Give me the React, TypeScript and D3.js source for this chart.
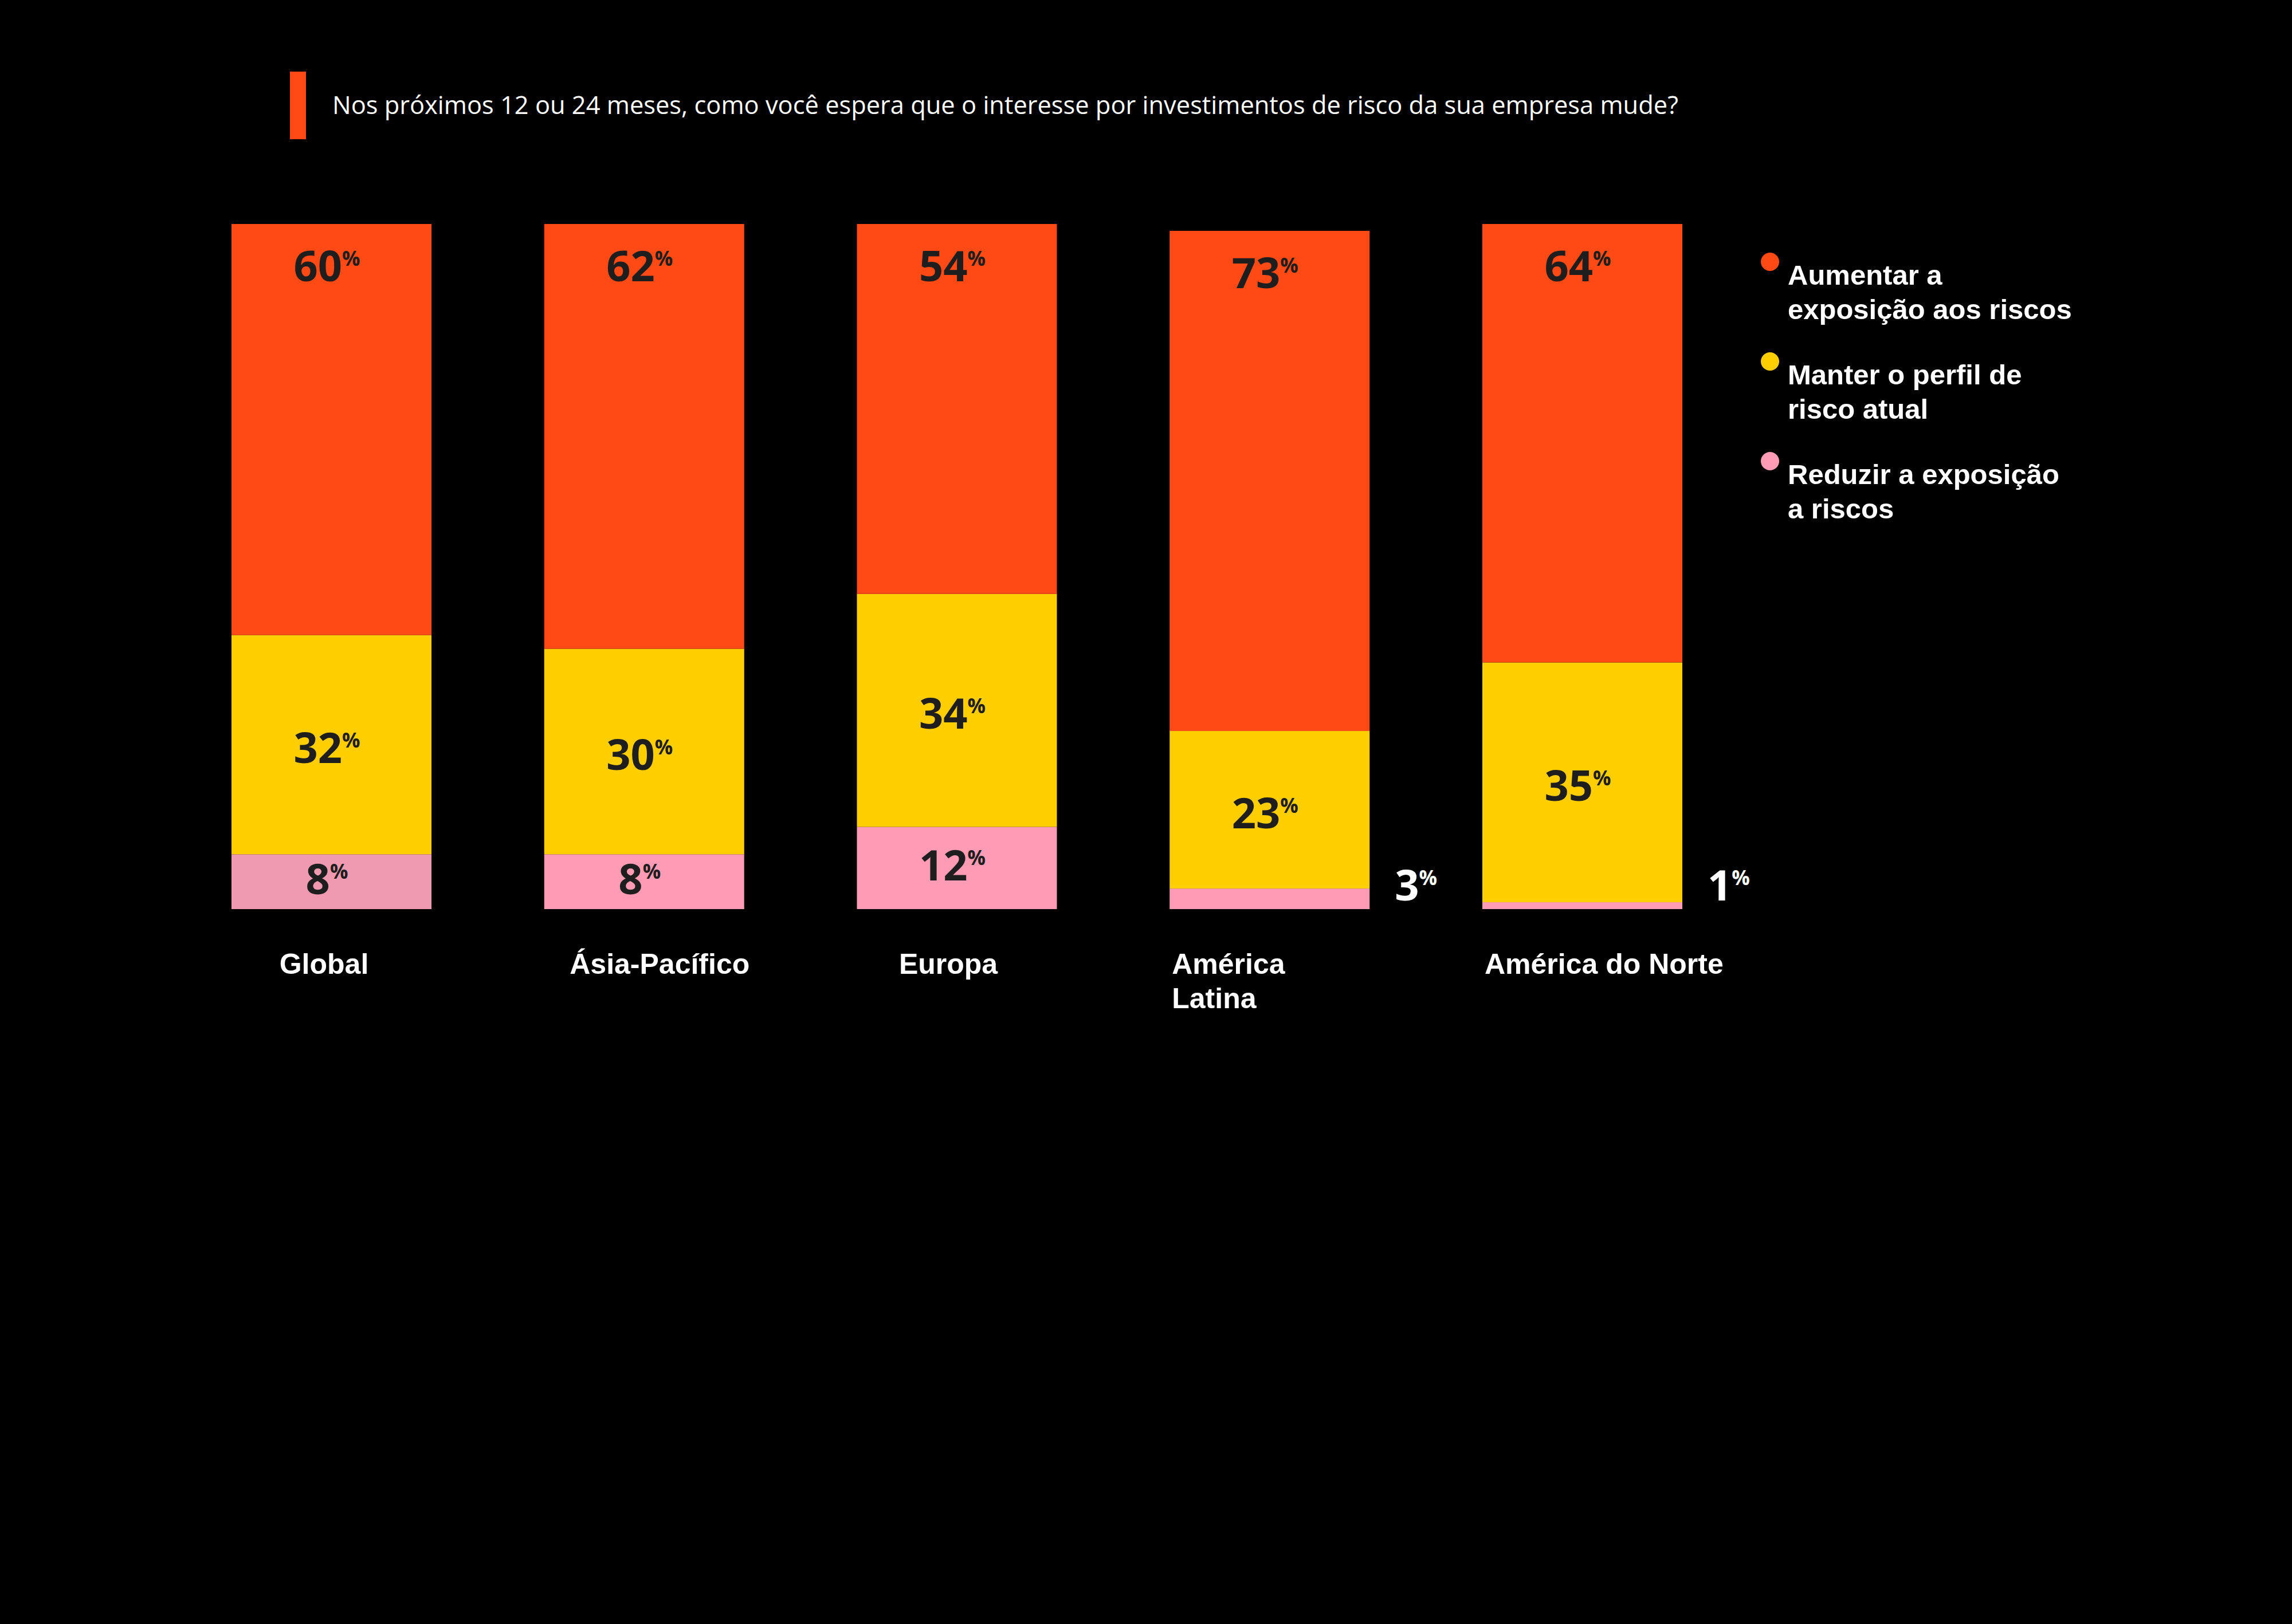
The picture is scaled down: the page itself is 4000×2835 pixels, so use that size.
import React, { useEffect, useRef } from 'react';
import * as d3 from 'd3';

// values (percent)
const regions = ['Global', 'Ásia-Pacífico', 'Europa', 'América Latina', 'América do Norte'];
const aumentar = [60, 62, 54, 73, 64];
const manter = [32, 30, 34, 23, 35];
const reduzir = [8, 8, 12, 3, 1];

const seriesKeys = ['aumentar', 'manter', 'reduzir'];
const legendLines = [
  ['Aumentar a', 'exposição aos riscos'],
  ['Manter o perfil de', 'risco atual'],
  ['Reduzir a exposição', 'a riscos'],
];
const regionLines: Record<string, string[]> = {
  'América Latina': ['América', 'Latina'],
};
const title =
  'Nos próximos 12 ou 24 meses, como você espera que o interesse por investimentos de risco da sua empresa mude?';

const W = 4000;
const H = 2835;
const ORANGE = '#FF4A15';
const YELLOW = '#FFCE00';
const PINK = '#FF9BB4';
const INK = '#1E1E1E';

export default function App() {
  const svgRef = useRef<SVGSVGElement>(null);

  useEffect(() => {
    if (!svgRef.current) return;
    const svg = d3.select(svgRef.current);
    svg.selectAll('*').remove();

    svg.append('rect').attr('width', W).attr('height', H).attr('fill', '#000');

    // title with orange marker
    svg.append('rect')
      .attr('x', 506).attr('y', 125).attr('width', 28).attr('height', 118)
      .attr('fill', ORANGE);
    svg.append('text')
      .attr('x', 580).attr('y', 199)
      .attr('fill', '#fff')
      .style('font-family', '"Open Sans", sans-serif')
      .style('font-size', '43.4px')
      .text(title);

    const rows = regions.map((r, i) => ({
      region: r,
      aumentar: aumentar[i],
      manter: manter[i],
      reduzir: reduzir[i],
    }));

    const x = d3.scaleBand<string>()
      .domain(regions)
      .range([404, 2936])
      .paddingInner(0.3605)
      .paddingOuter(0);

    const y = d3.scaleLinear().domain([0, 100]).range([1587, 391]);

    const color = d3.scaleOrdinal<string, string>()
      .domain(seriesKeys)
      .range([ORANGE, YELLOW, PINK]);

    const stack = d3.stack<any>().keys(seriesKeys.slice().reverse());
    const layers = stack(rows);

    const g = svg.append('g');

    layers.forEach(layer => {
      const key = layer.key;
      g.append('g')
        .selectAll('rect')
        .data(layer)
        .join('rect')
        .attr('x', d => x(d.data.region)!)
        .attr('width', x.bandwidth())
        .attr('y', d => y(d[1]))
        .attr('height', d => y(d[0]) - y(d[1]))
        .attr('fill', d => (key === 'reduzir' && d.data.region === 'Global' ? '#F09AB1' : color(key)));
    });

    // value labels: big number with a small raised percent sign
    const addValue = (
      sel: d3.Selection<SVGGElement, unknown, null, undefined>,
      xPos: number,
      yPos: number,
      value: number,
      fill: string,
      anchor: string
    ) => {
      const t = sel.append('text')
        .attr('x', xPos).attr('y', yPos)
        .attr('fill', fill)
        .attr('text-anchor', anchor)
        .style('font-family', '"Open Sans", sans-serif')
        .style('font-weight', 700)
        .style('font-size', '74px');
      t.append('tspan').text(String(value));
      t.append('tspan')
        .attr('dx', 0).attr('dy', -27)
        .style('font-size', '35px')
        .text('%');
    };

    const labels = svg.append('g');
    layers.forEach(layer => {
      const key = layer.key;
      layer.forEach(d => {
        const v = d[1] - d[0];
        const cx = x(d.data.region)! + x.bandwidth() / 2 - 8;
        if (key === 'aumentar') {
          addValue(labels, cx, y(d[1]) + 100, v, INK, 'middle');
        } else if (v < 5) {
          addValue(labels, x(d.data.region)! + x.bandwidth() + 44, y(0) - 15, v, '#fff', 'start');
        } else {
          const mid = (y(d[0]) + y(d[1])) / 2;
          addValue(labels, cx, mid + (key === 'manter' ? 32 : 22), v, INK, 'middle');
        }
      });
    });

    // category labels
    const nudge: Record<string, number> = { 'Global': -13, 'Ásia-Pacífico': 27, 'Europa': -15 };
    const cat = svg.append('g')
      .style('font-family', '"Liberation Sans", Arial, sans-serif')
      .style('font-weight', 700)
      .style('font-size', '50px')
      .attr('fill', '#fff');
    regions.forEach(r => {
      const lines = regionLines[r] || [r];
      const centered = r in nudge;
      const t = cat.append('text')
        .attr('text-anchor', centered ? 'middle' : 'start');
      lines.forEach((ln, j) => {
        t.append('tspan')
          .attr('x', centered ? x(r)! + x.bandwidth() / 2 + nudge[r] : x(r)! + 4)
          .attr('y', 1700 + j * 60)
          .text(ln);
      });
    });

    // legend
    const leg = svg.append('g');
    seriesKeys.forEach((k, i) => {
      const base = 497 + i * 174;
      leg.append('circle')
        .attr('cx', 3089).attr('cy', base - 40).attr('r', 16)
        .attr('fill', color(k));
      const t = leg.append('text')
        .attr('fill', '#fff')
        .style('font-family', '"Liberation Sans", Arial, sans-serif')
        .style('font-weight', 700)
        .style('font-size', '49px');
      legendLines[i].forEach((ln, j) => {
        t.append('tspan').attr('x', 3120).attr('y', base + j * 60).text(ln);
      });
    });
  }, []);

  return (
    <svg
      ref={svgRef}
      width={W}
      height={H}
      style={{ position: 'absolute', left: 0, top: 0, display: 'block' }}
    />
  );
}
